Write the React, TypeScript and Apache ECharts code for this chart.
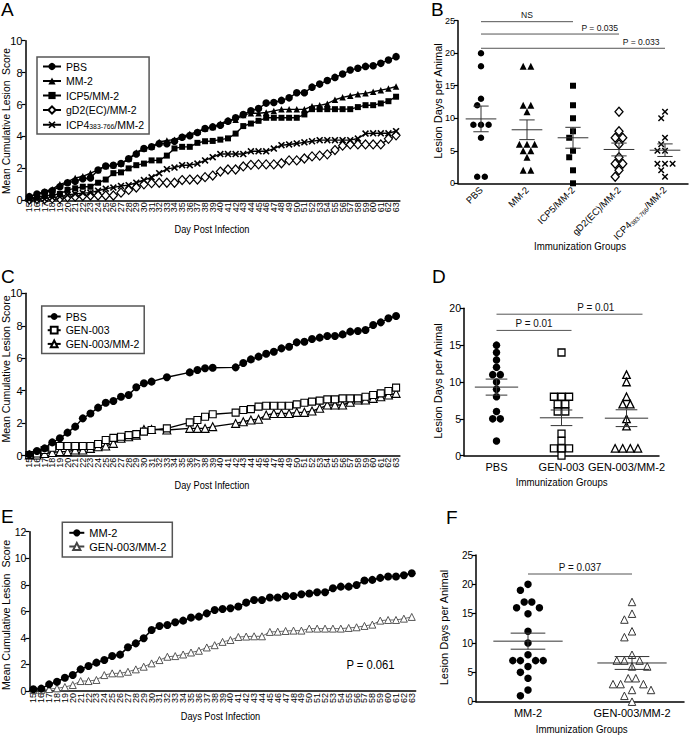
import React, { useEffect, useRef } from "react";
import * as echarts from "echarts";

// ---------- DATA ----------
const DAYS = ["15","16","17","18","19","20","21","22","23","24","25","26","27","28","29","30","31","32","33","34","35","36","37","38","39","40","41","42","43","44","45","46","47","48","49","50","51","52","53","54","55","56","57","58","59","60","61","62","63"];

// Panel A
const A_PBS = [0.23,0.4,0.5,0.6,0.85,1.1,1.2,1.35,1.4,1.9,2.15,2.2,2.3,2.6,2.9,3.25,3.35,3.55,3.55,3.7,3.95,4.05,4.25,4.5,4.6,4.7,4.96,5.17,5.38,5.61,5.75,6.09,6.13,6.26,6.42,6.74,6.74,7.09,7.28,7.51,7.7,7.91,8.16,8.27,8.39,8.43,8.58,8.79,9.0];
const A_MM2 = [0.23,0.38,0.55,0.7,1.0,1.15,1.4,1.5,1.7,1.9,2.15,2.2,2.3,2.6,3.0,3.25,3.35,3.65,3.75,3.8,4.0,4.15,4.3,4.5,4.6,4.8,5.0,5.05,5.35,5.45,5.45,5.5,5.6,5.7,5.7,5.7,5.7,5.9,5.95,6.05,6.3,6.45,6.55,6.65,6.7,6.8,6.9,7.0,7.13];
const A_ICP5 = [0.13,0.2,0.27,0.33,0.4,0.65,0.75,0.85,0.85,1.1,1.3,1.7,1.75,2.0,2.2,2.3,2.5,2.5,2.8,3.25,3.35,3.35,3.6,3.7,3.72,3.8,3.88,4.18,4.65,4.81,4.98,5.17,5.17,5.17,5.17,5.17,5.38,5.71,5.71,5.71,5.71,5.71,5.71,5.84,5.96,5.96,6.07,6.21,6.49];
const A_GD2 = [0.05,0.08,0.08,0.12,0.12,0.2,0.23,0.27,0.3,0.3,0.3,0.3,0.48,0.65,0.8,1.0,1.07,1.1,1.1,1.1,1.27,1.3,1.3,1.45,1.55,1.8,1.93,1.93,2.12,2.22,2.25,2.25,2.25,2.32,2.5,2.5,2.62,2.75,2.8,2.88,3.15,3.42,3.5,3.5,3.5,3.5,3.5,3.85,4.07];
const A_ICP4 = [0.05,0.05,0.08,0.17,0.23,0.33,0.4,0.45,0.48,0.6,0.73,0.8,0.9,0.95,1.1,1.27,1.44,1.7,1.95,2.05,2.2,2.2,2.3,2.5,2.7,2.9,2.9,2.9,2.9,3.07,3.07,3.07,3.24,3.45,3.5,3.56,3.63,3.7,3.77,3.77,3.77,3.77,3.77,3.87,4.18,4.2,4.2,4.2,4.33];

// Panel C (days without data are null)
const C_PBS = [0.08,0.29,0.45,0.82,1.07,1.42,1.79,2.3,2.6,2.96,3.26,3.37,3.63,3.74,4.21,4.46,4.56,null,4.83,null,null,5.13,5.28,5.38,5.42,null,null,5.44,5.71,5.93,6.1,6.28,6.4,6.61,6.71,6.98,7.02,7.19,7.27,7.37,7.37,7.47,7.64,7.68,7.74,8.05,8.21,8.46,8.6];
const C_GEN003 = [0.04,0.14,0.35,0.49,0.6,0.6,0.6,0.6,0.6,0.72,0.97,1.1,1.17,1.27,1.33,1.48,1.58,null,1.68,null,null,2.05,2.2,2.4,2.55,null,null,2.65,2.81,2.87,3.02,3.08,3.08,3.08,3.08,3.16,3.26,3.33,3.39,3.47,3.47,3.53,3.53,3.53,3.63,3.74,3.84,3.98,4.19];
const C_GEN003MM2 = [0.04,0.04,0.14,0.2,0.25,0.25,0.35,0.35,0.45,0.55,0.6,0.76,1.07,1.17,1.27,1.62,1.62,null,1.58,null,null,1.68,1.68,1.68,1.79,null,null,1.99,2.09,2.2,2.24,2.5,2.6,2.6,2.6,2.67,2.67,2.75,2.92,3.12,3.12,3.12,3.29,3.43,3.43,3.53,3.63,3.74,3.84];

// Panel E
const E_MM2 = [0.13,0.18,0.5,0.7,1.0,1.2,1.63,1.88,2.14,2.34,2.64,2.74,3.29,3.59,3.97,4.6,4.9,4.97,5.18,5.3,5.53,5.6,5.85,6.1,6.18,6.23,6.36,6.66,6.86,6.86,7.04,7.04,7.16,7.16,7.29,7.34,7.44,7.44,7.74,7.86,7.86,7.99,8.32,8.37,8.52,8.62,8.62,8.72,8.87];
const E_GEN003MM2 = [0.08,0.08,0.15,0.2,0.3,0.45,0.75,0.75,0.83,1.2,1.33,1.33,1.45,1.63,1.83,2.08,2.33,2.58,2.63,2.75,2.9,3.03,3.28,3.45,3.7,3.84,4.07,4.1,4.12,4.12,4.45,4.47,4.52,4.55,4.55,4.7,4.7,4.7,4.7,4.7,4.75,4.8,4.9,5.0,5.3,5.35,5.35,5.45,5.58];
const E_PVALUE = "P = 0.061";

// Panel B
const B_GROUPS = ["PBS", "MM-2", "ICP5/MM-2", "gD2(EC)/MM-2", "ICP4383-766/MM-2"];
const B_PBS = [20, 18, 13, 12, 9, 9, 9, 7, 1, 1];
const B_MM2 = [18, 18, 12, 12, 11, 6, 6, 6, 5, 5, 4, 2, 2];
const B_ICP5 = [15, 12, 10, 8, 7, 5, 4, 2, 0];
const B_GD2 = [11, 8, 7, 7, 6, 4, 3, 3, 2, 1];
const B_ICP4 = [11, 10, 7, 6, 5, 5, 3, 3, 3, 2, 1];
const B_SIG_FROM = [0, 0, 0];
const B_SIG_TO = [2, 3, 4];
const B_SIG_LEVEL = [24.85, 22.95, 20.76];
const B_SIG_TEXT = ["NS", "P = 0.035", "P = 0.033"];

// Panel D
const D_GROUPS = ["PBS", "GEN-003", "GEN-003/MM-2"];
const D_PBS = [15, 14, 13, 12, 11, 11, 10, 9, 8, 6, 5, 5, 2];
const D_GEN003 = [14, 8, 8, 8, 7, 7, 6, 6, 3, 2, 1, 1, 1, 0];
const D_GEN003MM2 = [11, 10, 8, 7, 7, 5, 4, 1, 1, 1, 1];
const D_SIG_FROM = [0, 0];
const D_SIG_TO = [1, 2];
const D_SIG_LEVEL = [17, 19.2];
const D_SIG_TEXT = ["P = 0.01", "P = 0.01"];

// Panel F
const F_GROUPS = ["MM-2", "GEN-003/MM-2"];
const F_MM2 = [20, 19, 17, 17, 16, 16, 15, 12, 10, 8, 7, 7, 7, 7, 6, 5, 4, 2, 1];
const F_GEN003MM2 = [17, 15, 14, 12, 11, 8, 7, 7, 7, 6, 6, 4, 4, 3, 3, 3, 2, 2, 1, 0];
const F_SIG_FROM = [0];
const F_SIG_TO = [1];
const F_SIG_LEVEL = [21.76];
const F_SIG_TEXT = ["P = 0.037"];

// ---------- STYLE ----------
const FONT = "'Liberation Sans', Arial, Helvetica, sans-serif";
const NARROW = "'Liberation Sans Narrow', 'Arial Narrow', 'Liberation Sans', Arial, sans-serif";
const INK = "#000";
const CROSS = "path://M0,1.6L1.6,0L5,3.4L8.4,0L10,1.6L6.6,5L10,8.4L8.4,10L5,6.6L1.6,10L0,8.4L3.4,5Z";

const GRIDS = [
  { left: 25.5, top: 40.7, width: 374.4, height: 159.6 }, // A
  { left: 25.5, top: 293.3, width: 374.4, height: 162.4 }, // C
  { left: 29.4, top: 531.7, width: 386.3, height: 159.3 }, // E
  { left: 458, top: 20.7, width: 230, height: 162.6 }, // B
  { left: 464, top: 308.3, width: 195, height: 147.4 }, // D
  { left: 476, top: 555, width: 208, height: 146.7 }, // F
];

function meanSem(v: number[]) {
  const n = v.length;
  const m = v.reduce((a, b) => a + b, 0) / n;
  const sd = Math.sqrt(v.reduce((a, b) => a + (b - m) * (b - m), 0) / (n - 1));
  return [m, sd / Math.sqrt(n)];
}

// simple beeswarm: spreads points with similar values sideways (result in category units)
function swarm(values: number[], pxPerUnit: number, bandPx: number, stepPx = 3.8, diam = 7) {
  const order = values.map((_, i) => i).sort((a, b) => values[b] - values[a]);
  const placed: { x: number; y: number }[] = [];
  const off = new Array(values.length).fill(0);
  let i = 0;
  while (i < order.length) {
    let j = i;
    while (j < order.length && values[order[j]] === values[order[i]]) j++;
    const group = order.slice(i, j);
    const y = values[group[0]] * pxPerUnit;
    let gx: number[] = [];
    for (let g = 0; g < group.length; g++) {
      for (let k = 0; k < 200; k++) {
        const s = k === 0 ? 0 : (k % 2 === 1 ? -Math.ceil(k / 2) : Math.ceil(k / 2));
        const cand = s * stepPx;
        const others = placed.concat(gx.map((x) => ({ x, y })));
        if (others.every((p) => Math.hypot(p.x - cand, p.y - y) >= diam)) {
          gx.push(cand);
          break;
        }
      }
    }
    const mean = gx.reduce((a, b) => a + b, 0) / gx.length;
    const shifted = gx.map((x) => x - mean);
    if (shifted.every((x) => placed.every((p) => Math.hypot(p.x - x, p.y - y) >= diam))) gx = shifted;
    gx.forEach((x, n) => {
      off[group[n]] = x / bandPx;
      placed.push({ x, y });
    });
    i = j;
  }
  return off;
}

const subRich = (fs: number) => ({
  n: { fontSize: fs, fontFamily: NARROW, color: INK, verticalAlign: "bottom", lineHeight: fs },
  s: { fontSize: fs * 0.65, fontFamily: NARROW, color: INK, verticalAlign: "bottom", lineHeight: fs },
});
const fmtName = (t: string) => (t.indexOf("ICP4383-766") === 0 ? "{n|ICP4}{s|383-766}{n|/MM-2}" : t);

function dayAxis(gridIndex: number, fontSize: number) {
  return {
    type: "category", gridIndex, data: DAYS, boundaryGap: true,
    axisLine: { lineStyle: { color: INK, width: 1.5 } },
    axisTick: { alignWithLabel: true, interval: 0, length: 3, lineStyle: { color: INK, width: 1 } },
    axisLabel: { interval: 0, rotate: 90, fontSize, fontFamily: FONT, color: INK, margin: 2 },
    splitLine: { show: false },
  };
}
function valAxis(gridIndex: number, max: number, interval: number, fontSize: number, onZero = true) {
  return {
    type: "value", gridIndex, min: 0, max, interval,
    axisLine: { show: true, onZero, lineStyle: { color: INK, width: 1.5 } },
    axisTick: { show: true, length: 4, lineStyle: { color: INK, width: 1.2 } },
    axisLabel: { fontSize, fontFamily: NARROW, color: INK, margin: 3 },
    splitLine: { show: false },
  };
}
function groupAxis(gridIndex: number, data: string[], fontSize: number, rotate: number, margin: number) {
  return {
    type: "category", gridIndex, data, boundaryGap: true,
    axisLine: { onZero: false, lineStyle: { color: INK, width: 1.5 } },
    axisTick: { alignWithLabel: true, length: 3, lineStyle: { color: INK, width: 1 } },
    axisLabel: {
      interval: 0, rotate, fontSize, fontFamily: NARROW, color: INK, margin,
      formatter: fmtName, rich: subRich(fontSize),
    },
    splitLine: { show: false },
  };
}
const hiddenX = (gridIndex: number, n: number) => ({ type: "value", gridIndex, min: -0.5, max: n - 0.5, show: false });

function lineS(name: string, data: any[], xi: number, yi: number, symbol: string, size: any, fill: string, o: any = {}) {
  return {
    type: "line", name, data, xAxisIndex: xi, yAxisIndex: yi, symbol, symbolSize: size,
    connectNulls: true, showSymbol: true, showAllSymbol: true, silent: true,
    lineStyle: { color: o.lineColor || INK, width: o.lineWidth || 1.4 },
    itemStyle: { color: fill, borderColor: o.border || INK, borderWidth: o.bw !== undefined ? o.bw : (fill === "#fff" ? 1.2 : 0) },
    emphasis: { disabled: true }, z: o.z || 2,
  };
}
function scatS(name: string, values: number[], g: number, xi: number, yi: number, symbol: string, size: any, fill: string, pxPerUnit: number, bandPx: number, o: any = {}) {
  const offs = swarm(values, pxPerUnit, bandPx);
  return {
    type: "scatter", name, xAxisIndex: xi, yAxisIndex: yi, symbol, symbolSize: size, silent: true,
    data: values.map((v, i) => [g + offs[i], v]),
    itemStyle: { color: fill, borderColor: o.border || INK, borderWidth: o.bw !== undefined ? o.bw : (fill === "#fff" ? 1.3 : 0), opacity: 1 },
    emphasis: { disabled: true }, z: 3,
  };
}
function meanSemS(groups: number[][], xi: number, yi: number) {
  return {
    type: "custom", xAxisIndex: xi, yAxisIndex: yi, silent: true, z: 5, clip: false,
    data: groups.map((v, i) => [i].concat(meanSem(v))),
    renderItem: (_p: any, api: any) => {
      const x = api.value(0), m = api.value(1), s = api.value(2);
      const c = api.coord([x, m]);
      const t = api.coord([x, m + s]);
      const b = api.coord([x, m - s]);
      const band = api.size([1, 0])[0];
      const hw = band / 3, cw = band / 6;
      const st = { stroke: "#333", lineWidth: 1 };
      return {
        type: "group",
        children: [
          { type: "line", shape: { x1: c[0] - hw, y1: c[1], x2: c[0] + hw, y2: c[1] }, style: st },
          { type: "line", shape: { x1: c[0], y1: t[1], x2: c[0], y2: b[1] }, style: st },
          { type: "line", shape: { x1: c[0] - cw, y1: t[1], x2: c[0] + cw, y2: t[1] }, style: st },
          { type: "line", shape: { x1: c[0] - cw, y1: b[1], x2: c[0] + cw, y2: b[1] }, style: st },
        ],
      };
    },
  };
}
function sigS(from: number[], to: number[], level: number[], text: string[], frac: number[], endPad: number[], fs: number, xi: number, yi: number) {
  return {
    type: "custom", xAxisIndex: xi, yAxisIndex: yi, silent: true, z: 5, clip: false,
    data: from.map((f, i) => [f, to[i], level[i]]),
    renderItem: (p: any, api: any) => {
      const k = p.dataIndex;
      const a = api.coord([api.value(0), api.value(2)]);
      const b = api.coord([api.value(1), api.value(2)]);
      const x2 = b[0] + endPad[k];
      const lx = a[0] + (x2 - a[0]) * frac[k];
      return {
        type: "group",
        children: [
          { type: "line", shape: { x1: a[0], y1: a[1], x2, y2: b[1] }, style: { stroke: "#555", lineWidth: 1 } },
          { type: "text", x: lx, y: a[1] - 1.5, scaleX: 0.9, style: { text: text[k], fill: "#111", fontSize: fs, fontFamily: FONT, align: "center", verticalAlign: "bottom" } },
        ],
      };
    },
  };
}

function txt(text: string, x: number, y: number, fs: number, o: any = {}) {
  return {
    type: "text", x, y, rotation: o.rot || 0, scaleX: o.sx || 1, silent: true,
    style: { text, fill: INK, fontSize: fs, fontFamily: FONT, align: o.align || "center", verticalAlign: o.va || "middle" },
  };
}

function legendBox(left: number, top: number, names: string[], itemWidth: number, itemHeight: number, gap: number, fs: number, pad: number[]) {
  return {
    left, top, orient: "vertical", data: names, selectedMode: false,
    borderColor: "#555", borderWidth: 1.5, padding: pad, backgroundColor: "#fff",
    itemWidth, itemHeight, itemGap: gap,
    formatter: (nm: string) => fmtName(nm.split("|")[1]),
    textStyle: { fontSize: fs, fontFamily: NARROW, color: INK, lineHeight: itemHeight, rich: subRich(fs) },
  };
}

export default function App() {
  const ref = useRef<HTMLDivElement>(null);
  useEffect(() => {
    if (!ref.current) return;
    const chart = echarts.init(ref.current, undefined, { renderer: "svg" });

    const bPx = 162.6 / 25, dPx = 147.4 / 20, fPx = 146.7 / 25;
    const bBand = 230 / 5, dBand = 195 / 3, fBand = 208 / 2;

    const option: any = {
      animation: false,
      backgroundColor: "#fff",
      grid: GRIDS.map((g) => ({ ...g, containLabel: false, outerBoundsMode: "none" })),
      xAxis: [
        dayAxis(0, 9), dayAxis(1, 9), dayAxis(2, 9),
        groupAxis(3, B_GROUPS, 9.5, 45, 5), hiddenX(3, B_GROUPS.length),
        groupAxis(4, D_GROUPS, 11, 0, 6), hiddenX(4, D_GROUPS.length),
        groupAxis(5, F_GROUPS, 11, 0, 6), hiddenX(5, F_GROUPS.length),
      ],
      yAxis: [
        valAxis(0, 10, 2, 11), valAxis(1, 10, 2, 11), valAxis(2, 12, 2, 10.5),
        valAxis(3, 25, 5, 9, false), valAxis(4, 20, 5, 10.5, false), valAxis(5, 25, 5, 10, false),
      ],
      legend: [
        legendBox(37, 57, ["A|PBS", "A|MM-2", "A|ICP5/MM-2", "A|gD2(EC)/MM-2", "A|ICP4383-766/MM-2"], 18, 9, 3.5, 10.5, [4, 5, 4, 5]),
        legendBox(41.7, 306, ["C|PBS", "C|GEN-003", "C|GEN-003/MM-2"], 13, 8.5, 2.7, 10.5, [5, 5, 4, 5]),
        legendBox(62.3, 522.3, ["E|MM-2", "E|GEN-003/MM-2"], 15, 9, 2.7, 11, [5, 6, 5, 6]),
      ],
      series: [
        // A
        lineS("A|gD2(EC)/MM-2", A_GD2, 0, 0, "diamond", [8, 9], "#fff"),
        lineS("A|ICP4383-766/MM-2", A_ICP4, 0, 0, CROSS, 7, INK),
        lineS("A|ICP5/MM-2", A_ICP5, 0, 0, "rect", 6, INK),
        lineS("A|MM-2", A_MM2, 0, 0, "triangle", 6.5, INK),
        lineS("A|PBS", A_PBS, 0, 0, "circle", 7.5, INK),
        // C
        lineS("C|GEN-003/MM-2", C_GEN003MM2, 1, 1, "triangle", 8, "#fff", { bw: 1.1 }),
        lineS("C|GEN-003", C_GEN003, 1, 1, "rect", 7, "#fff", { bw: 1.1 }),
        lineS("C|PBS", C_PBS, 1, 1, "circle", 8, INK),
        // E
        lineS("E|GEN-003/MM-2", E_GEN003MM2, 2, 2, "triangle", 7, "#fff", { lineWidth: 0.8, lineColor: "#444", border: "#444", bw: 0.9 }),
        lineS("E|MM-2", E_MM2, 2, 2, "circle", 8, INK, { lineWidth: 1.6 }),
        // B
        scatS("B PBS", B_PBS, 0, 4, 3, "circle", 6.5, INK, bPx, bBand),
        scatS("B MM-2", B_MM2, 1, 4, 3, "triangle", 7, INK, bPx, bBand),
        scatS("B ICP5", B_ICP5, 2, 4, 3, "rect", 6, INK, bPx, bBand),
        scatS("B gD2", B_GD2, 3, 4, 3, "diamond", [8, 9], "#fff", bPx, bBand),
        scatS("B ICP4", B_ICP4, 4, 4, 3, CROSS, 6.5, INK, bPx, bBand),
        meanSemS([B_PBS, B_MM2, B_ICP5, B_GD2, B_ICP4], 4, 3),
        sigS(B_SIG_FROM, B_SIG_TO, B_SIG_LEVEL, B_SIG_TEXT, [0.5, 0.86, 0.87], [0, 0, 0], 9.5, 4, 3),
        // D
        scatS("D PBS", D_PBS, 0, 6, 4, "circle", 7.5, INK, dPx, dBand),
        scatS("D GEN-003", D_GEN003, 1, 6, 4, "rect", 7, "#fff", dPx, dBand),
        scatS("D GEN-003/MM-2", D_GEN003MM2, 2, 6, 4, "triangle", 7.5, "#fff", dPx, dBand),
        meanSemS([D_PBS, D_GEN003, D_GEN003MM2], 6, 4),
        sigS(D_SIG_FROM, D_SIG_TO, D_SIG_LEVEL, D_SIG_TEXT, [0.5, 0.68], [10, 16], 11, 6, 4),
        // F
        scatS("F MM-2", F_MM2, 0, 8, 5, "circle", 7.5, INK, fPx, fBand),
        scatS("F GEN-003/MM-2", F_GEN003MM2, 1, 8, 5, "triangle", 7.5, "#fff", fPx, fBand, { border: "#333", bw: 1 }),
        meanSemS([F_MM2, F_GEN003MM2], 8, 5),
        sigS(F_SIG_FROM, F_SIG_TO, F_SIG_LEVEL, F_SIG_TEXT, [0.5], [0], 11, 8, 5),
      ],
      graphic: [
        txt("A", 1, -0.5, 19, { align: "left", va: "top" }),
        txt("B", 431, -0.5, 19, { align: "left", va: "top" }),
        txt("C", 1, 266.5, 19, { align: "left", va: "top" }),
        txt("D", 432, 266.5, 19, { align: "left", va: "top" }),
        txt("E", 1, 506.5, 19, { align: "left", va: "top" }),
        txt("F", 446, 508, 19, { align: "left", va: "top" }),
        txt("Mean Cumulative Lesion  Score", 6, 121, 10.3, { rot: Math.PI / 2 }),
        txt("Mean Cumulative Lesion Score", 6, 369, 10.6, { rot: Math.PI / 2 }),
        txt("Mean Cumulative Lesion  Score", 6, 615, 10.6, { rot: Math.PI / 2 }),
        txt("Day Post Infection", 212, 229, 10.5, { sx: 0.88 }),
        txt("Day Post Infection", 212, 485, 10.5, { sx: 0.88 }),
        txt("Days Post Infection", 220.5, 716.7, 10.5, { sx: 0.88 }),
        txt("Lesion Days per Animal", 437.5, 101, 11, { rot: Math.PI / 2 }),
        txt("Lesion Days per Animal", 438, 381, 11, { rot: Math.PI / 2 }),
        txt("Lesion Days per Animal", 443.5, 627.5, 11, { rot: Math.PI / 2 }),
        txt("Immunization Groups", 580, 246, 11, { sx: 0.88 }),
        txt("Immunization Groups", 561.7, 482.3, 11, { sx: 0.88 }),
        txt("Immunization Groups", 581.7, 729.3, 11, { sx: 0.88 }),
        txt(E_PVALUE, 370.5, 665, 12.5, { sx: 0.9 }),
      ],
    };
    chart.setOption(option);
    return () => chart.dispose();
  }, []);
  return (
    <div
      ref={ref}
      style={{ position: "fixed", left: 0, top: 0, width: 691, height: 738, background: "#fff" }}
    />
  );
}
